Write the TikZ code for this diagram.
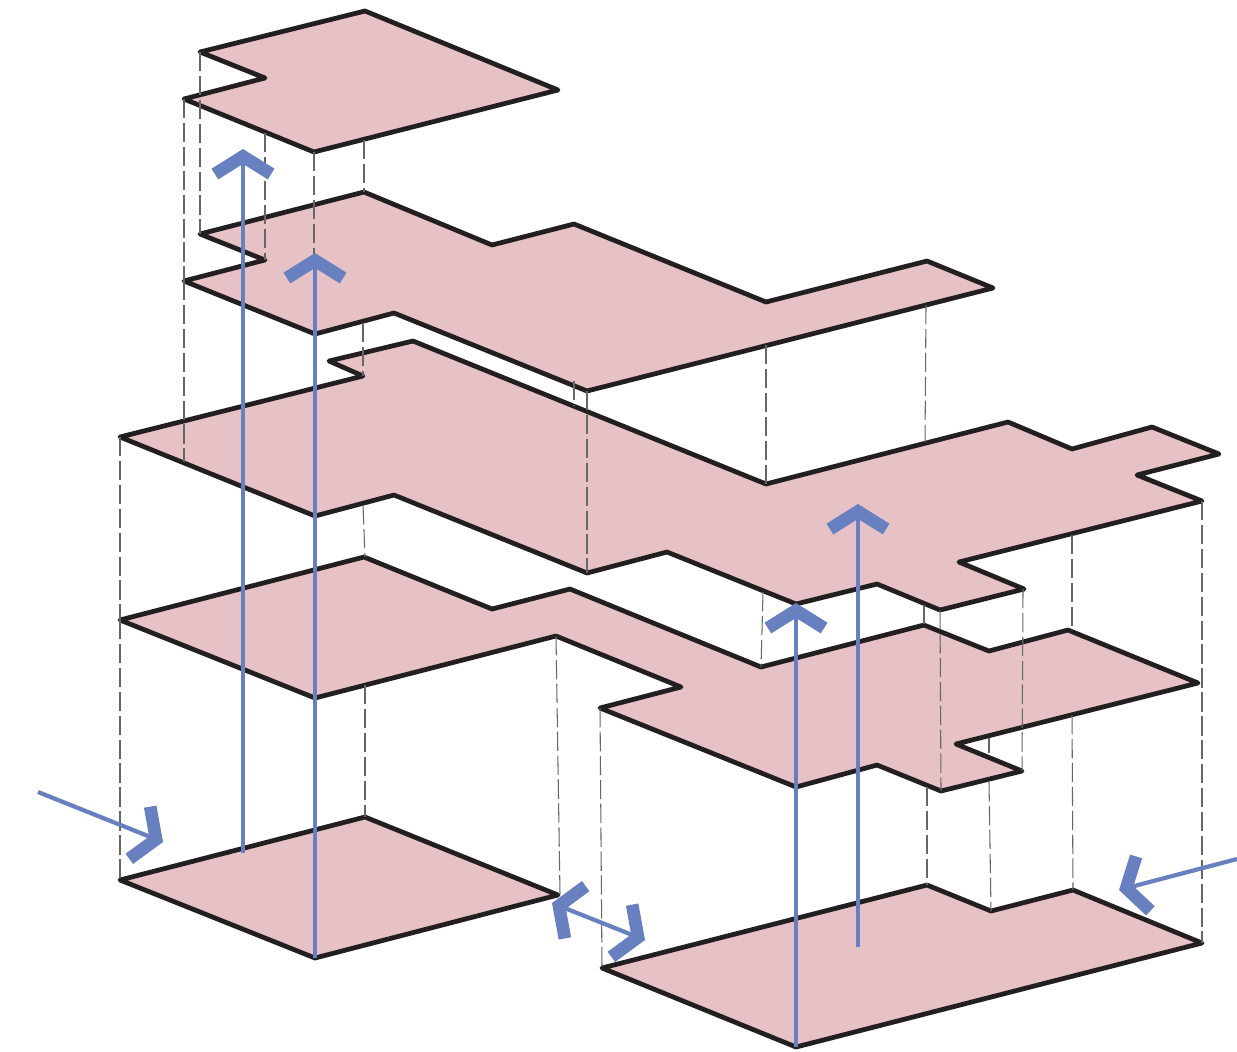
\documentclass[tikz,border=0pt]{standalone}
\usetikzlibrary{arrows.meta}
\definecolor{floorpink}{HTML}{E6C1C6}
\definecolor{edgeblack}{HTML}{231F20}
\definecolor{flowblue}{HTML}{6880C0}
\begin{document}
\begin{tikzpicture}[x=0.01cm,y=-0.01cm]
 \tikzset{floor plate/.style={fill=floorpink, draw=edgeblack, line width=1.35pt, line join=round}, }
 \tikzset{drop line/.style={draw=black!60, line width=0.3pt, dash pattern=on 5.5pt off 1.3pt}, }
 \tikzset{flow/.style={draw=flowblue, line width=1.2pt, -{Straight Barb[length=5pt,width=16pt,line width=3.6pt]}}, }
 \tikzset{flow both/.style={flow, {Straight Barb[length=5pt,width=16pt,line width=3.6pt]}-{Straight Barb[length=5pt,width=16pt,line width=3.6pt]}}, }
 \useasboundingbox (0,0) rectangle (1237,1051);
 % floors
 \path[floor plate] (200,52) -- (365,11) -- (558,90) -- (314,152) -- (184,99) -- (265,78) -- cycle;
 \path[floor plate] (200,234) -- (364,192) -- (492,245) -- (574,224) -- (766,302) -- (927,261) -- (993,288)
 	-- (587,391) -- (394,313) -- (315,334) -- (184,281) -- (265,260) -- cycle;
 \path[floor plate] (329,361) -- (413,341) -- (766,484) -- (1008,422) -- (1072,449) -- (1152,427) -- (1219,454)
 	-- (1137,475) -- (1202,501) -- (959,562) -- (1024,589) -- (940,610) -- (877,584) -- (796,604) -- (667,552)
 	-- (587,573) -- (394,495) -- (315,516) -- (120,437) -- (363,376) -- cycle;
 \path[floor plate] (120,620) -- (364,557) -- (492,609) -- (570,589) -- (761,667) -- (924,625) -- (989,651)
 	-- (1068,630) -- (1198,683) -- (956,744) -- (1022,771) -- (941,791) -- (877,765) -- (796,787) -- (600,708)
 	-- (681,687) -- (556,636) -- (315,698) -- cycle;
 \path[floor plate] (120,880) -- (365,817) -- (558,895) -- (315,958) -- cycle;
 \path[floor plate] (602,968) -- (927,885) -- (991,911) -- (1073,890) -- (1202,943) -- (796,1047) -- cycle;
 % drop lines
 \foreach \xa /\ya /\xb /\yb in{200/52/200/234, 184/99/184/281, 184/281/184/462, 265/133/265/260, 314/152/314/255,
 	364/140/364/192, 120/437/120/620, 120/620/120/880, 363/323/363/376, 574/381/574/405, 587/391/587/573,
 	363/505/365/557, 365/685/365/817, 766/345/766/484, 926/305/925/442, 763/592/761/667, 924/605/924/625,
 	556/636/560/895, 600/708/602/968, 940/610/941/791, 1023/589/1022/771, 1072/535/1072/628, 1072/715/1073/890,
 	1202/501/1202/943, 989/738/989/753, 989/782/991/911, 927/787/927/885}
 \draw[drop line] (\xa,\ya) -- (\xb,\yb);
 % flows
 \coordinate (up1a) at (243,853);
 \coordinate (up1b) at (243,149);
 \coordinate (up2a) at (315,958);
 \coordinate (up2b) at (315,253);
 \coordinate (up3a) at (796,1047);
 \coordinate (up3b) at (796,603);
 \coordinate (up4a) at (858,947);
 \coordinate (up4b) at (858,504);
 \coordinate (in1a) at (38,792);
 \coordinate (in1b) at (163,842);
 \coordinate (in2a) at (1237,859);
 \coordinate (in2b) at (1119,890);
 \foreach \x /\y in{up1a/up1b,up2a/up2b,up3a/up3b,up4a/up4b,in1a/in1b,in2a/in2b}
 \draw[flow] (\x) -- (\y);
 \coordinate (gapa) at (552,903);
 \coordinate (gapb) at (645,940);
 \draw[flow both] (gapa) -- (gapb);
\end{tikzpicture}
\end{document}
